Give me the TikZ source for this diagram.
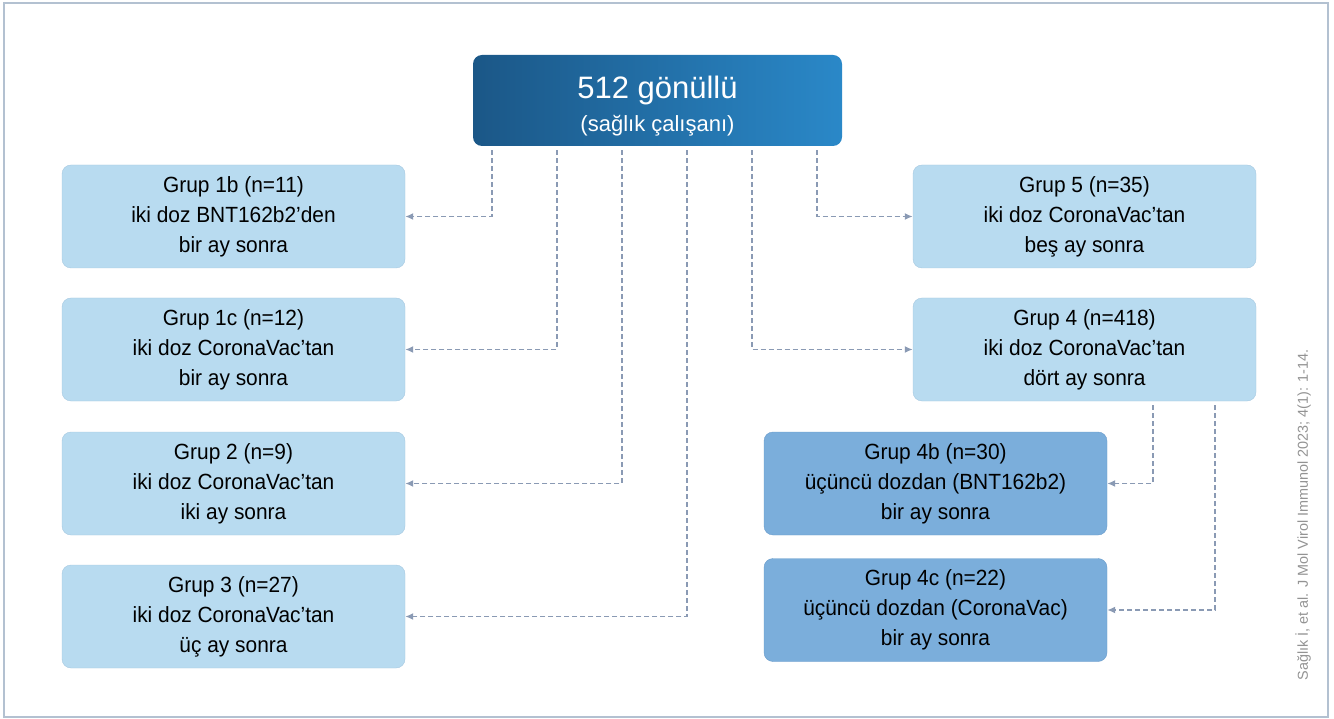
\documentclass[tikz,border=0pt]{standalone}
\usepackage{fontspec}
\setmainfont{Liberation Sans}
\newfontfamily\boxfont[FakeStretch=0.95,Ligatures=TeX]{Liberation Sans}
\usetikzlibrary{arrows.meta}
\definecolor{darkbl}{HTML}{1B5787}
\definecolor{midbl}{HTML}{2A88C8}
\definecolor{lightbl}{HTML}{B8DBF0}
\definecolor{lightbd}{HTML}{A6C8E0}
\definecolor{groupbl}{HTML}{7BAEDB}
\definecolor{groupbd}{HTML}{6A9CCB}
\definecolor{connc}{HTML}{8A9AB4}
\definecolor{framec}{HTML}{B3C1D1}
\begin{document}
\begin{tikzpicture}[x=1pt,y=-1pt,
	box/.style={draw=lightbd,fill=lightbl,rounded corners=9pt,minimum width=343pt,minimum height=103pt,align=center,font=\boxfont\fontsize{22}{30}\selectfont,text=black},
	darkbox/.style={box,draw=groupbd,fill=groupbl},
	topbox/.style={rounded corners=9pt,left color=darkbl,right color=midbl,minimum width=369pt,minimum height=91pt},
	conn/.style={dash pattern=on 5pt off 3pt,draw=connc,line width=1.6pt,shorten <=4pt,-{Latex[length=8pt,width=7pt]}}]
	\useasboundingbox (0,0) rectangle (1334,719);
	\draw[framec,line width=1.3pt] (4,3) rectangle (1328,717);
	% top node
	\node[topbox] (top) at (657.5,100.5) {};
	\node[align=center,text=white] (toptxt) at (657.5,106) {{\fontsize{31}{36}\selectfont 512 gönüllü}\\[9pt]{\fontsize{22}{26}\selectfont (sağlık çalışanı)}};
	% left column
	\node[box] (g1b) at (233.5,216.5) {Grup 1b (n=11)\\iki doz BNT162b2’den\\bir ay sonra};
	\node[box] (g1c) at (233.5,349.5) {Grup 1c (n=12)\\iki doz CoronaVac’tan\\bir ay sonra};
	\node[box] (g2) at (233.5,483.5) {Grup 2 (n=9)\\iki doz CoronaVac’tan\\iki ay sonra};
	\node[box] (g3) at (233.5,616.5) {Grup 3 (n=27)\\iki doz CoronaVac’tan\\üç ay sonra};
	% right column
	\node[box] (g5) at (1084.5,216.5) {Grup 5 (n=35)\\iki doz CoronaVac’tan\\beş ay sonra};
	\node[box] (g4) at (1084.5,349.5) {Grup 4 (n=418)\\iki doz CoronaVac’tan\\dört ay sonra};
	\node[darkbox] (g4b) at (935.5,483.5) {Grup 4b (n=30)\\üçüncü dozdan (BNT162b2)\\bir ay sonra};
	\node[darkbox] (g4c) at (935.5,610) {Grup 4c (n=22)\\üçüncü dozdan (CoronaVac)\\bir ay sonra};
	% connectors
	\draw[conn] (top.south -| 492,0) |- (g1b.east);
	\draw[conn] (top.south -| 557,0) |- (g1c.east);
	\draw[conn] (top.south -| 622,0) |- (g2.east);
	\draw[conn] (top.south -| 687,0) |- (g3.east);
	\draw[conn] (top.south -| 817,0) |- (g5.west);
	\draw[conn] (top.south -| 752,0) |- (g4.west);
	\draw[conn] (g4.south -| 1153,0) |- (g4b.east);
	\draw[conn] (g4.south -| 1215,0) |- (g4c.east);
	% source
	\node[rotate=90,text=gray!85,font=\fontsize{14.4}{17}\selectfont] (src) at (1303,515) {Sağlık İ, et al. J Mol Virol Immunol 2023; 4(1): 1-14.};
\end{tikzpicture}
\end{document}
